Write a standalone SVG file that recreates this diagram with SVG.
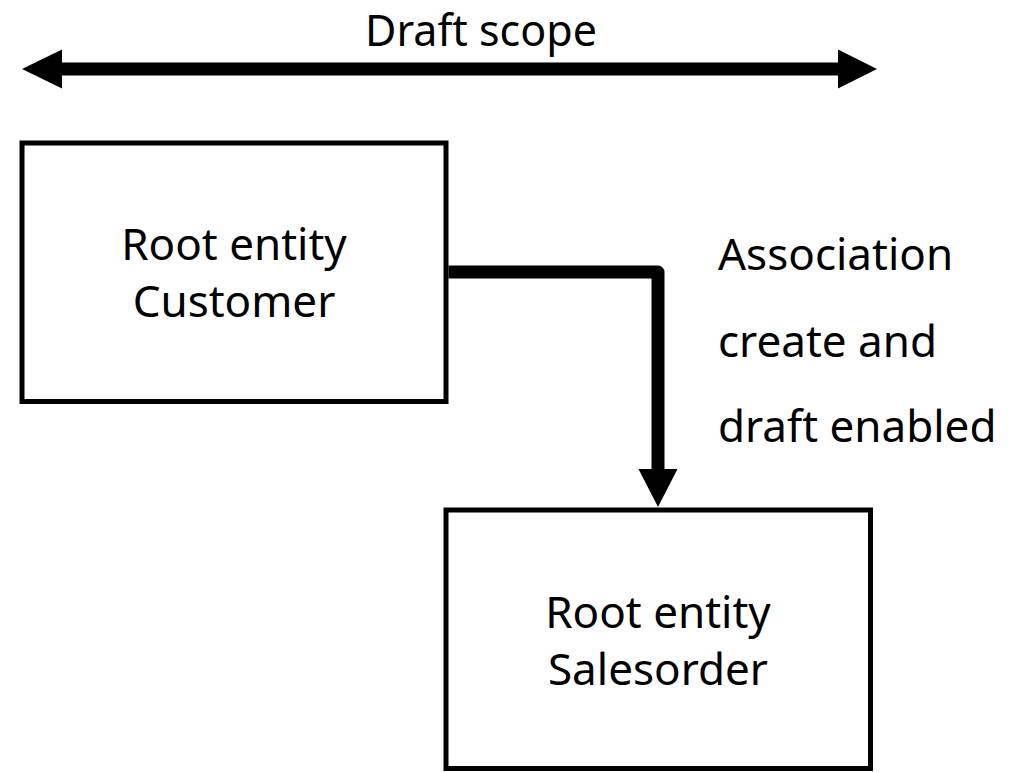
<svg xmlns="http://www.w3.org/2000/svg" width="1035" height="772" viewBox="0 0 1035 772">
<defs>
<style>
.box{fill:#fff;stroke:#000;stroke-width:5}
.t{font-family:"Noto Sans","Open Sans",sans-serif;font-size:44px;fill:#000}
.c{text-anchor:middle}
.conn{fill:none;stroke:#000;stroke-width:13}
</style>
</defs>
<rect width="1035" height="772" fill="#fff"/>
<g id="scope">
<text class="t c" x="481" y="46" style="font-size:43px">Draft scope</text>
<line class="conn" x1="60" y1="69" x2="840" y2="69" stroke-linecap="butt"/>
<polygon points="22,69 62,49.5 62,88.5"/>
<polygon points="877,69 838,49.5 838,88.5"/>
</g>
<g id="customer">
<rect class="box" x="22" y="143" width="424" height="258.5"/>
<text class="t c" x="234" y="260">Root entity</text>
<text class="t c" x="234" y="316.5">Customer</text>
</g>
<g id="salesorder">
<rect class="box" x="446" y="510" width="424.5" height="258.5"/>
<text class="t c" x="658" y="628.3">Root entity</text>
<text class="t c" x="658" y="685">Salesorder</text>
</g>
<g id="connectors">
<path class="conn" d="M448.5,272 H658 V471" stroke-linejoin="round"/>
<polygon points="658,507 638.5,469 677.5,469"/>
</g>
<g id="assoc-label">
<text class="t" x="718" y="270">Association</text>
<text class="t" x="718" y="356.7">create and</text>
<text class="t" x="718" y="441.7">draft enabled</text>
</g>
</svg>
